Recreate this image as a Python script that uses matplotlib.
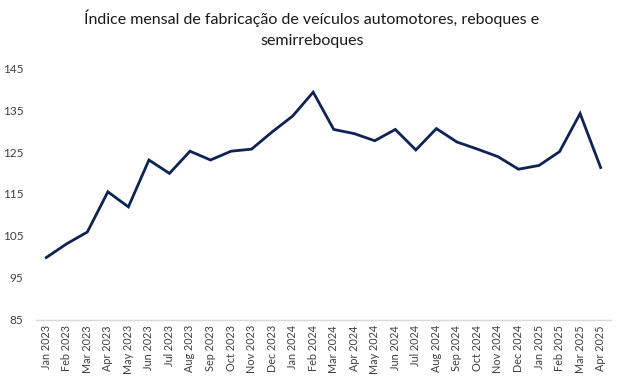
import matplotlib.pyplot as plt

# monthly index values
months = ['Jan 2023', 'Feb 2023', 'Mar 2023', 'Apr 2023', 'May 2023', 'Jun 2023',
          'Jul 2023', 'Aug 2023', 'Sep 2023', 'Oct 2023', 'Nov 2023', 'Dec 2023',
          'Jan 2024', 'Feb 2024', 'Mar 2024', 'Apr 2024', 'May 2024', 'Jun 2024',
          'Jul 2024', 'Aug 2024', 'Sep 2024', 'Oct 2024', 'Nov 2024', 'Dec 2024',
          'Jan 2025', 'Feb 2025', 'Mar 2025', 'Apr 2025']
index_values = [99.8, 103.1, 105.9, 115.5, 111.9, 123.1, 119.9, 125.2, 123.1, 125.2,
                125.7, 129.8, 133.6, 139.3, 130.4, 129.4, 127.7, 130.4, 125.5, 130.6,
                127.4, 125.7, 123.9, 120.9, 121.8, 125.1, 134.2, 121.3]
y_ticks = [85, 95, 105, 115, 125, 135, 145]

plt.rcParams['font.family'] = ['Lato', 'DejaVu Sans']

fig = plt.figure(figsize=(6.24, 3.77), dpi=100)
ax = fig.add_axes([0.0577, 0.1525, 0.9213, 0.6663])

x = list(range(len(months)))
ax.plot(x, index_values, color='#0e2254', linewidth=2.0, solid_joinstyle='miter')

ax.set_xlim(-0.5, len(months) - 0.5)
ax.set_ylim(85, 145)
ax.set_yticks(y_ticks)
ax.set_xticks(x)
ax.set_xticklabels(months, rotation=90, fontsize=7.8, color='#404040')
ax.tick_params(axis='y', length=0, labelsize=8.5, labelcolor='#404040', pad=9)
ax.tick_params(axis='x', length=0, pad=4)

for side in ['top', 'right', 'left']:
    ax.spines[side].set_visible(False)
ax.spines['bottom'].set_color('#d9d9d9')
ax.spines['bottom'].set_linewidth(1.0)

fig.text(0.5, 0.952, 'Índice mensal de fabricação de veículos automotores, reboques e',
         ha='center', va='center', fontsize=11.5, color='#1a1a1a')
fig.text(0.5, 0.891, 'semirreboques', ha='center', va='center', fontsize=11.5, color='#1a1a1a')

fig.savefig('out.png', dpi=100)
